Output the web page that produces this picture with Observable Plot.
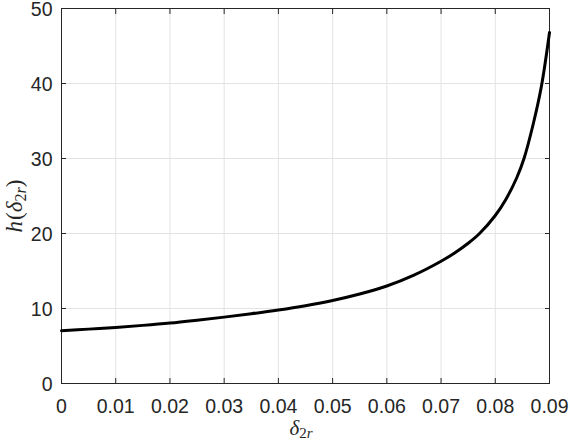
<!DOCTYPE html>
<html>
<head>
<meta charset="utf-8">
<script src="https://cdn.jsdelivr.net/npm/d3@7"></script>
<script src="https://cdn.jsdelivr.net/npm/@observablehq/plot@0.6"></script>
<style>
  html, body { margin: 0; padding: 0; background: white; }
</style>
</head>
<body>
<div id="chart"></div>
<script>
// values
const deltaValues = [0, 0.005, 0.01, 0.015, 0.02, 0.025, 0.03, 0.035, 0.04, 0.045, 0.05, 0.055, 0.06, 0.065, 0.07, 0.0725, 0.075, 0.0771, 0.08, 0.082, 0.084, 0.0853, 0.087, 0.0885, 0.09];
const hValues     = [7.03, 7.25, 7.48, 7.75, 8.06, 8.44, 8.85, 9.3, 9.8, 10.38, 11.07, 11.93, 13.0, 14.45, 16.3, 17.4, 18.7, 20, 22.4, 24.6, 27.5, 30.0, 34.6, 39.6, 46.8];
const xTicks = [0, 0.01, 0.02, 0.03, 0.04, 0.05, 0.06, 0.07, 0.08, 0.09];
const yTicks = [0, 10, 20, 30, 40, 50];

const data = deltaValues.map((d, i) => ({delta: d, h: hValues[i]}));
const axisColor = "#262626";
const blank = () => "";

const chart = Plot.plot({
  width: 570,
  height: 440,
  marginLeft: 61,
  marginRight: 21,
  marginTop: 8,
  marginBottom: 57,
  style: {fontFamily: "'Liberation Sans', Arial, sans-serif", fontSize: "19.5px", color: axisColor, background: "white"},
  x: {domain: [0, 0.09]},
  y: {domain: [0, 50]},
  marks: [
    Plot.gridX(xTicks, {stroke: "#e3e3e3", strokeOpacity: 1}),
    Plot.gridY(yTicks, {stroke: "#e3e3e3", strokeOpacity: 1}),
    Plot.frame({stroke: axisColor, strokeWidth: 1}),
    Plot.line(data, {x: "delta", y: "h", stroke: "black", strokeWidth: 3, curve: "catmull-rom"}),
    Plot.axisX(xTicks, {anchor: "bottom", tickSize: 0, tickPadding: 16, tickFormat: d => String(d), label: null, fill: axisColor}),
    Plot.axisY(yTicks, {anchor: "left", tickSize: 0, tickPadding: 9, tickFormat: d => String(d), label: null, fill: axisColor, dy: 1}),
    Plot.axisX(xTicks, {anchor: "bottom", tickSize: -5, tickFormat: blank, label: null, stroke: axisColor}),
    Plot.axisX(xTicks, {anchor: "top", tickSize: -5, tickFormat: blank, label: null, stroke: axisColor}),
    Plot.axisY(yTicks, {anchor: "left", tickSize: -5, tickFormat: blank, label: null, stroke: axisColor}),
    Plot.axisY(yTicks, {anchor: "right", tickSize: -5, tickFormat: blank, label: null, stroke: axisColor})
  ]
});

document.getElementById("chart").appendChild(chart);

// axis titles (LaTeX-like math text)
const svg = d3.select(chart);
const serif = "'Liberation Serif', 'Times New Roman', serif";

const xl = svg.append("text")
  .attr("x", 301).attr("y", 435)
  .attr("text-anchor", "middle")
  .attr("font-family", serif).attr("font-style", "italic")
  .attr("font-size", 21).attr("fill", axisColor);
xl.append("tspan").text("δ");
xl.append("tspan").attr("font-size", 15).attr("dy", 3).attr("font-style", "normal").text("2");
xl.append("tspan").attr("font-size", 15).text("r");

const yl = svg.append("text")
  .attr("transform", "translate(22,206) rotate(-90)")
  .attr("text-anchor", "middle")
  .attr("font-family", serif).attr("font-style", "italic")
  .attr("font-size", 23).attr("fill", axisColor);
yl.append("tspan").text("h");
yl.append("tspan").attr("font-style", "normal").attr("dx", 1).text("(");
yl.append("tspan").text("δ");
yl.append("tspan").attr("font-size", 16).attr("dy", 4).attr("font-style", "normal").text("2");
yl.append("tspan").attr("font-size", 16).text("r");
yl.append("tspan").attr("dy", -4).attr("font-style", "normal").text(")");
</script>
</body>
</html>
